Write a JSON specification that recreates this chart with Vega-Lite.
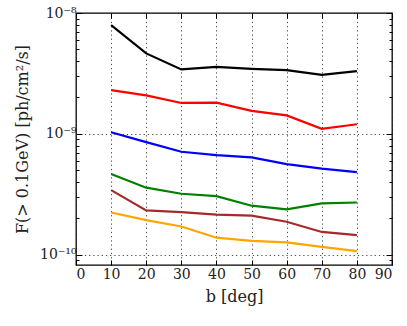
{
  "$schema": "https://vega.github.io/schema/vega-lite/v6.json",
  "width": 316,
  "height": 252,
  "autosize": {"type": "none"},
  "padding": {"left": 76, "top": 13, "right": 15, "bottom": 61},
  "background": "white",
  "config": {
    "view": {"stroke": "black", "strokeWidth": 1.3},
    "font": "DejaVu Serif",
    "axis": {
      "labelFont": "DejaVu Serif",
      "titleFont": "DejaVu Serif",
      "labelColor": "#222",
      "titleColor": "#222",
      "labelFontSize": 14,
      "titleFontSize": 16,
      "titleFontWeight": "normal",
      "domainColor": "black",
      "tickColor": "black",
      "gridColor": "#333",
      "gridDash": [1.2, 3],
      "gridWidth": 0.9
    }
  },
  "data": {
    "values": [
      {"b": 10, "F": 7.95e-9, "s": "s1"}, {"b": 20, "F": 4.63e-9, "s": "s1"}, {"b": 30, "F": 3.41e-9, "s": "s1"}, {"b": 40, "F": 3.58e-9, "s": "s1"},
      {"b": 50, "F": 3.45e-9, "s": "s1"}, {"b": 60, "F": 3.36e-9, "s": "s1"}, {"b": 70, "F": 3.08e-9, "s": "s1"}, {"b": 80, "F": 3.30e-9, "s": "s1"},
      {"b": 10, "F": 2.30e-9, "s": "s2"}, {"b": 20, "F": 2.08e-9, "s": "s2"}, {"b": 30, "F": 1.80e-9, "s": "s2"}, {"b": 40, "F": 1.81e-9, "s": "s2"},
      {"b": 50, "F": 1.55e-9, "s": "s2"}, {"b": 60, "F": 1.42e-9, "s": "s2"}, {"b": 70, "F": 1.10e-9, "s": "s2"}, {"b": 80, "F": 1.20e-9, "s": "s2"},
      {"b": 10, "F": 1.03e-9, "s": "s3"}, {"b": 20, "F": 8.53e-10, "s": "s3"}, {"b": 30, "F": 7.10e-10, "s": "s3"}, {"b": 40, "F": 6.65e-10, "s": "s3"},
      {"b": 50, "F": 6.37e-10, "s": "s3"}, {"b": 60, "F": 5.61e-10, "s": "s3"}, {"b": 70, "F": 5.14e-10, "s": "s3"}, {"b": 80, "F": 4.82e-10, "s": "s3"},
      {"b": 10, "F": 4.64e-10, "s": "s4"}, {"b": 20, "F": 3.58e-10, "s": "s4"}, {"b": 30, "F": 3.19e-10, "s": "s4"}, {"b": 40, "F": 3.05e-10, "s": "s4"},
      {"b": 50, "F": 2.54e-10, "s": "s4"}, {"b": 60, "F": 2.37e-10, "s": "s4"}, {"b": 70, "F": 2.65e-10, "s": "s4"}, {"b": 80, "F": 2.70e-10, "s": "s4"},
      {"b": 10, "F": 3.42e-10, "s": "s5"}, {"b": 20, "F": 2.32e-10, "s": "s5"}, {"b": 30, "F": 2.25e-10, "s": "s5"}, {"b": 40, "F": 2.14e-10, "s": "s5"},
      {"b": 50, "F": 2.10e-10, "s": "s5"}, {"b": 60, "F": 1.87e-10, "s": "s5"}, {"b": 70, "F": 1.54e-10, "s": "s5"}, {"b": 80, "F": 1.45e-10, "s": "s5"},
      {"b": 10, "F": 2.23e-10, "s": "s6"}, {"b": 20, "F": 1.93e-10, "s": "s6"}, {"b": 30, "F": 1.71e-10, "s": "s6"}, {"b": 40, "F": 1.38e-10, "s": "s6"},
      {"b": 50, "F": 1.30e-10, "s": "s6"}, {"b": 60, "F": 1.26e-10, "s": "s6"}, {"b": 70, "F": 1.16e-10, "s": "s6"}, {"b": 80, "F": 1.07e-10, "s": "s6"}
    ]
  },
  "resolve": {"axis": {"x": "independent", "y": "independent"}},
  "layer": [
    {
      "mark": {"type": "line", "strokeWidth": 2.2, "clip": true},
      "encoding": {
        "x": {
          "field": "b", "type": "quantitative",
          "scale": {"domain": [0, 90], "nice": false},
          "axis": {
            "orient": "bottom", "title": "b [deg]", "values": [0, 10, 20, 30, 40, 50, 60, 70, 80, 90],
            "grid": true, "tickSize": -5, "labelPadding": 7, "titlePadding": 7, "domain": false
          }
        },
        "y": {
          "field": "F", "type": "quantitative",
          "scale": {"type": "log", "domain": [8.2e-11, 1e-8], "nice": false},
          "axis": {
            "orient": "left",
            "title": "F(> 0.1GeV) [ph/cm²/s]",
            "titlePadding": 9,
            "domain": false,
            "values": [9e-11, 1e-10, 2e-10, 3e-10, 4e-10, 5e-10, 6e-10, 7e-10, 8e-10, 9e-10, 1e-9, 2e-9, 3e-9, 4e-9, 5e-9, 6e-9, 7e-9, 8e-9, 9e-9, 1e-8],
            "labelExpr": "abs(log(datum.value)/LN10 - round(log(datum.value)/LN10)) < 0.01 ? (round(log(datum.value)/LN10) == -8 ? '10⁻⁸' : (round(log(datum.value)/LN10) == -9 ? '10⁻⁹' : '10⁻¹⁰')) : ''",
            "grid": true,
            "gridOpacity": {"condition": {"test": "abs(log(datum.value)/LN10 - round(log(datum.value)/LN10)) < 0.01", "value": 1}, "value": 0},
            "tickSize": {"condition": {"test": "abs(log(datum.value)/LN10 - round(log(datum.value)/LN10)) < 0.01", "value": -6}, "value": -3},
            "labelPadding": 6
          }
        },
        "color": {
          "field": "s", "type": "nominal", "legend": null,
          "scale": {"domain": ["s1", "s2", "s3", "s4", "s5", "s6"], "range": ["#000000", "#ff0000", "#0000ff", "#008000", "#a52a2a", "#ffa500"]}
        }
      }
    },
    {
      "mark": {"type": "line", "strokeOpacity": 0},
      "encoding": {
        "x": {
          "field": "b", "type": "quantitative",
          "scale": {"domain": [0, 90], "nice": false},
          "axis": {"orient": "top", "title": null, "labels": false, "values": [0, 10, 20, 30, 40, 50, 60, 70, 80, 90], "grid": false, "tickSize": -5, "domain": false}
        },
        "y": {
          "field": "F", "type": "quantitative",
          "scale": {"type": "log", "domain": [8.2e-11, 1e-8], "nice": false},
          "axis": {
            "orient": "right", "title": null, "labels": false, "grid": false, "domain": false,
            "values": [9e-11, 1e-10, 2e-10, 3e-10, 4e-10, 5e-10, 6e-10, 7e-10, 8e-10, 9e-10, 1e-9, 2e-9, 3e-9, 4e-9, 5e-9, 6e-9, 7e-9, 8e-9, 9e-9, 1e-8],
            "tickSize": {"condition": {"test": "abs(log(datum.value)/LN10 - round(log(datum.value)/LN10)) < 0.01", "value": -6}, "value": -3}
          }
        },
        "detail": {"field": "s", "type": "nominal"}
      }
    }
  ]
}
